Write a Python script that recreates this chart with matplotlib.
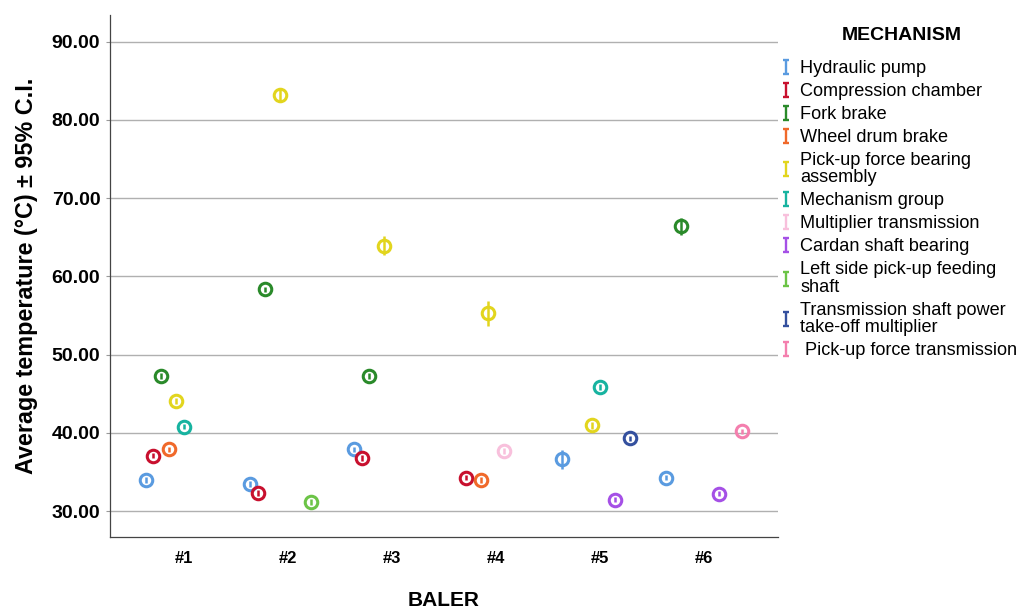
import numpy as np
import matplotlib
matplotlib.use("Agg")
import matplotlib.pyplot as plt
from matplotlib.lines import Line2D
from matplotlib.path import Path

plt.rcParams['font.family'] = ['Liberation Sans', 'DejaVu Sans']

nan = np.nan

balers = ["#1", "#2", "#3", "#4", "#5", "#6"]

mechanisms = [
    "Hydraulic pump",
    "Compression chamber",
    "Fork brake",
    "Wheel drum brake",
    "Pick-up force bearing\nassembly",
    "Mechanism group",
    "Multiplier transmission",
    "Cardan shaft bearing",
    "Left side pick-up feeding\nshaft",
    "Transmission shaft power\ntake-off multiplier",
    " Pick-up force transmission",
]

colors = [
    "#5A9BE0",  # hydraulic pump
    "#C8102E",  # compression chamber
    "#2A8A2A",  # fork brake
    "#F0692A",  # wheel drum brake
    "#E2D51E",  # pick-up force bearing assembly
    "#17B3A0",  # mechanism group
    "#F8C0DC",  # multiplier transmission
    "#A550E6",  # cardan shaft bearing
    "#6CC447",  # left side pick-up feeding shaft
    "#34509E",  # transmission shaft power take-off multiplier
    "#F47FAE",  # pick-up force transmission
]

# Mean temperature per mechanism for balers #1..#6 (nan = not measured)
hydraulic_pump      = [34.0, 33.5, 37.9, nan, 36.65, 34.3]
compression_chamber = [37.1, 32.3, 36.8, 34.3, nan, nan]
fork_brake          = [47.25, 58.35, 47.3, nan, nan, 66.4]
wheel_drum_brake    = [37.9, nan, nan, 34.0, nan, nan]
pickup_bearing      = [44.05, 83.2, 63.9, 55.3, 40.95, nan]
mechanism_group     = [40.8, nan, nan, nan, 45.85, nan]
multiplier_trans    = [nan, nan, nan, 37.7, nan, nan]
cardan_bearing      = [nan, nan, nan, nan, 31.45, 32.25]
left_feeding_shaft  = [nan, 31.2, nan, nan, nan, nan]
pto_shaft           = [nan, nan, nan, nan, 39.3, nan]
pickup_trans        = [nan, nan, nan, nan, nan, 40.2]

# Half-width of the 95% confidence interval
hydraulic_pump_ci      = [0.35, 0.35, 0.35, nan, 1.2, 0.35]
compression_chamber_ci = [0.35, 0.35, 0.35, 0.35, nan, nan]
fork_brake_ci          = [0.35, 0.35, 0.35, nan, nan, 1.1]
wheel_drum_brake_ci    = [0.35, nan, nan, 0.35, nan, nan]
pickup_bearing_ci      = [0.4, 0.8, 1.2, 1.6, 0.4, nan]
mechanism_group_ci     = [0.35, nan, nan, nan, 0.35, nan]
multiplier_trans_ci    = [nan, nan, nan, 0.35, nan, nan]
cardan_bearing_ci      = [nan, nan, nan, nan, 0.3, 0.3]
left_feeding_shaft_ci  = [nan, 0.35, nan, nan, nan, nan]
pto_shaft_ci           = [nan, nan, nan, nan, 0.35, nan]
pickup_trans_ci        = [nan, nan, nan, nan, nan, 0.35]

means = [hydraulic_pump, compression_chamber, fork_brake, wheel_drum_brake,
         pickup_bearing, mechanism_group, multiplier_trans, cardan_bearing,
         left_feeding_shaft, pto_shaft, pickup_trans]
cis = [hydraulic_pump_ci, compression_chamber_ci, fork_brake_ci, wheel_drum_brake_ci,
       pickup_bearing_ci, mechanism_group_ci, multiplier_trans_ci, cardan_bearing_ci,
       left_feeding_shaft_ci, pto_shaft_ci, pickup_trans_ci]

yticks = [30, 40, 50, 60, 70, 80, 90]

W, H = 1019, 608
fig = plt.figure(figsize=(W / 100, H / 100), dpi=100)
ax = fig.add_axes([110 / W, 1 - 537 / H, 668 / W, 522 / H])

x = np.arange(len(balers))
step = 0.073
center = 5
for k, (m, c, col) in enumerate(zip(means, cis, colors)):
    m = np.asarray(m, float)
    c = np.asarray(c, float)
    ok = ~np.isnan(m)
    ax.errorbar(x[ok] + (k - center) * step, m[ok], yerr=c[ok], fmt='o',
                color=col, ecolor=col, elinewidth=1.8, capsize=0,
                markersize=9, markerfacecolor='none', markeredgewidth=2.2,
                zorder=3)

ax.set_xlim(-0.71, len(balers) - 1 + 0.71)
ax.set_ylim(26.7, 93.4)
ax.set_yticks(yticks)
ax.set_yticklabels([f"{v:.2f}" for v in yticks], fontsize=14, fontweight='bold')
ax.set_xticks(x)
ax.set_xticklabels(balers, fontsize=12, fontweight='bold')
ax.tick_params(axis='x', length=0, pad=10)
ax.tick_params(axis='y', length=3, color='#999999', pad=4)
ax.yaxis.grid(True, color='#B0B0B0', linewidth=1.0)
ax.set_axisbelow(True)
for s in ['top', 'right']:
    ax.spines[s].set_visible(False)
for s in ['left', 'bottom']:
    ax.spines[s].set_color('#444444')
    ax.spines[s].set_linewidth(0.9)

ax.set_xlabel("BALER", fontsize=15, fontweight='bold', labelpad=18)
ax.set_ylabel("Average temperature (°C) ± 95% C.I.", fontsize=16.8,
              fontweight='bold', labelpad=10)

# Error-bar glyph used for the legend keys
ibar = Path([(-0.45, -1), (0.45, -1), (0, -1), (0, 1), (-0.45, 1), (0.45, 1)],
            [Path.MOVETO, Path.LINETO, Path.MOVETO, Path.LINETO, Path.MOVETO, Path.LINETO])
handles = [Line2D([], [], linestyle='none', marker=ibar, markersize=9.5,
                  markeredgewidth=1.7, color=col) for col in colors]

fig.text(902 / W, 1 - 35 / H, "MECHANISM", ha='center', va='center',
         fontsize=14, fontweight='bold')
leg = fig.legend(handles, mechanisms, loc='upper left',
                 bbox_to_anchor=(781 / W, 1 - 60 / H),
                 frameon=False, fontsize=13.1,
                 handlelength=0.6, handletextpad=0.45, labelspacing=0.33,
                 borderaxespad=0, borderpad=0)
for t in leg.get_texts():
    t.set_linespacing(1.03)

fig.savefig("out.png", dpi=100)
